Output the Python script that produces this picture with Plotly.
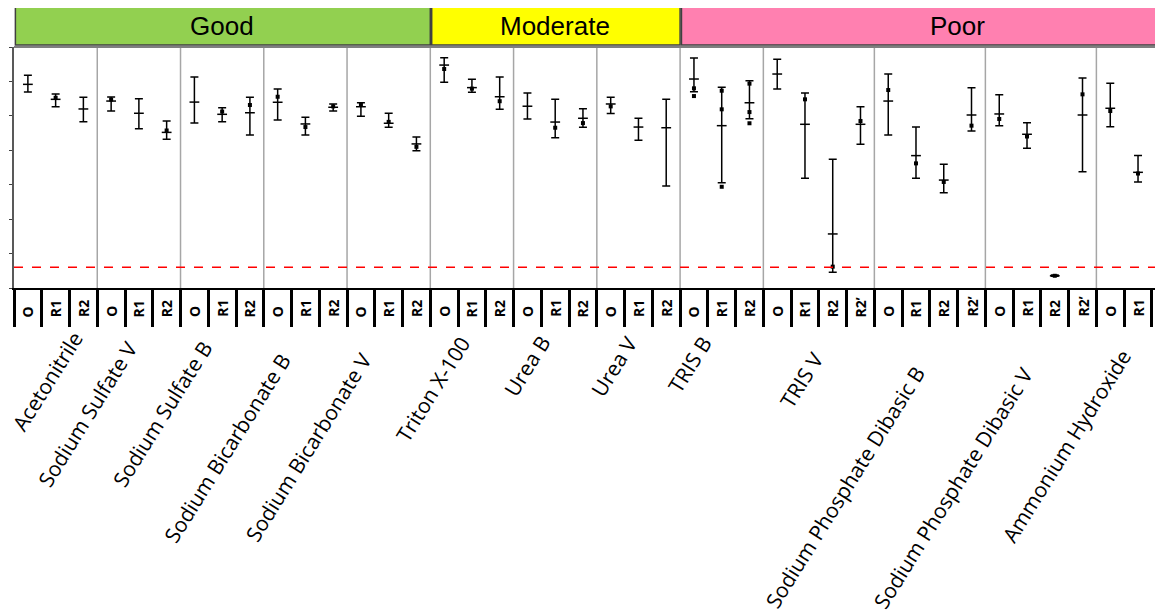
import plotly.graph_objects as go

# ---------------- data ----------------
groups = ["Acetonitrile", "Sodium Sulfate V", "Sodium Sulfate B", "Sodium Bicarbonate B",
          "Sodium Bicarbonate V", "Triton X-100", "Urea B", "Urea V", "TRIS B", "TRIS V",
          "Sodium Phosphate Dibasic B", "Sodium Phosphate Dibasic V", "Ammonium Hydroxide"]
group_conditions = ([["O", "R1", "R2"]] * 9 + [["O", "R1", "R2", "R2’"]] * 3
                    + [["O", "R1", "R2"]])
ratings = ["Good"] * 5 + ["Moderate"] * 3 + ["Poor"] * 5
rating_names = ["Good", "Moderate", "Poor"]
rating_colors = ["#92D050", "#FFFF00", "#FF80B0"]

means = [118.3, 109.6, 104.0, 108.6, 101.5, 90.4, 108.0, 100.9, 101.8, 107.9, 95.3, 105.0,
         105.3, 95.7, 83.7, 129.5, 116.4, 111.1, 105.6, 96.4, 98.6, 106.9, 93.5, 93.1,
         121.4, 94.3, 107.6, 124.3, 95.1, 31.4, 95.1, 108.6, 76.9, 62.7, 100.5, 101.1,
         89.3, 7.1, 100.5, 104.4, 67.2, 56.9]
upper = [123.6, 112.7, 110.8, 111.0, 110.0, 97.0, 122.6, 104.7, 110.8, 115.6, 99.2, 106.9,
         107.6, 101.5, 87.7, 133.8, 121.2, 122.6, 113.3, 109.6, 104.2, 110.8, 98.6, 109.6,
         133.6, 116.6, 120.4, 132.9, 113.3, 74.8, 105.3, 124.3, 93.5, 71.9, 116.4, 112.3,
         96.0, 7.5, 122.0, 118.9, 76.9, 61.0]
lower = [113.9, 105.3, 96.6, 102.8, 92.5, 86.4, 95.8, 96.6, 88.9, 97.6, 88.9, 102.8,
         99.7, 93.4, 79.8, 119.5, 113.7, 103.8, 98.2, 87.3, 93.4, 101.3, 85.8, 59.3,
         114.0, 61.2, 98.3, 115.6, 63.7, 9.1, 83.5, 88.9, 63.7, 55.4, 91.2, 94.3,
         81.2, 6.8, 67.6, 93.7, 61.6, 53.4]
points = [[], [110.5], [], [109.5], [], [91.5], [], [102.5], [106.3], [111.1], [93.5], [105.5],
          [106.5], [96.5], [82.0], [127.2], [115.8], [108.5], [], [93.1], [95.8], [105.5], [], [],
          [116.0, 111.5], [114.6, 103.8, 58.8], [118.7, 102.2, 95.7], [], [109.6], [12.4],
          [97.0], [115.0], [72.4], [61.6], [94.3], [98.2], [88.0], [7.1], [112.5], [102.8],
          [66.5], []]
threshold = 12

# ---------------- derived positions ----------------
cell_x, cell_lab, group_start = [], [], []
k = 0
for g, conds in zip(groups, group_conditions):
    group_start.append(k)
    for c in conds:
        cell_x.append(k)
        cell_lab.append(c)
        k += 1
group_end = [s + len(c) - 1 for s, c in zip(group_start, group_conditions)]
group_center = [(s + e) / 2 for s, e in zip(group_start, group_end)]

fig = go.Figure()
fig.add_trace(go.Scatter(
    x=cell_x, y=means, mode="markers",
    marker=dict(symbol="line-ew", size=7, color="black", line=dict(color="black", width=1.5)),
    error_y=dict(type="data", symmetric=False,
                 array=[u - m for u, m in zip(upper, means)],
                 arrayminus=[m - l for m, l in zip(means, lower)],
                 color="black", thickness=1.5, width=4),
    showlegend=False))
px_, py_ = [], []
for x, pts in zip(cell_x, points):
    for p in pts:
        px_.append(x)
        py_.append(p)
fig.add_trace(go.Scatter(x=px_, y=py_, mode="markers",
                         marker=dict(symbol="square", size=4, color="black"),
                         showlegend=False))

# plot geometry (screen px): top 47, bottom 288
PH = 241.0
def pap(py):
    return (288 - py) / PH

shapes = []
for s in group_start[1:]:
    shapes.append(dict(type="line", xref="x", yref="paper", x0=s - 0.5, x1=s - 0.5, y0=0, y1=1,
                       line=dict(color="#A6A6A6", width=1.5), layer="below"))
shapes.append(dict(type="line", xref="paper", yref="y", x0=0, x1=1, y0=threshold, y1=threshold,
                   line=dict(color="#FF0000", width=1.5, dash="dash")))
shapes.append(dict(type="line", xref="paper", yref="paper", x0=0, x1=1, y0=1, y1=1,
                   line=dict(color="#7F7F7F", width=2)))

annotations = []
for name, col in zip(rating_names, rating_colors):
    idx = [i for i, r in enumerate(ratings) if r == name]
    x0 = group_start[idx[0]] - 0.5
    x1 = group_end[idx[-1]] + 0.5
    shapes.append(dict(type="rect", xref="x", yref="paper", x0=x0 + 0.05, x1=x1, y0=pap(45), y1=pap(7),
                       fillcolor=col, line=dict(color="#404040", width=1.5)))
    xc = (x0 + x1) / 2 if name != "Poor" else 33.5
    annotations.append(dict(x=xc, y=(pap(45) + pap(7)) / 2, xref="x", yref="paper",
                            text=name, showarrow=False, yanchor="middle",
                            font=dict(family="Liberation Sans, Arial", size=26, color="black")))

for x, lab in zip(cell_x, cell_lab):
    annotations.append(dict(x=x, y=0, xref="x", yref="paper", text="<b>%s</b>" % lab,
                            showarrow=False, textangle=-90, xanchor="center", yanchor="bottom",
                            yshift=-31, font=dict(family="Open Sans", size=14, color="black")))

label_dx = [36, 7, -1, -6, -8, 7, 4, 8, -1, 13, 4, 1, 2]
label_end_y = [323, 333, 333, 345, 345, 328, 328, 328, 328, 344, 358, 360, 342]
for g, xc, dx, ey in zip(groups, group_center, label_dx, label_end_y):
    annotations.append(dict(x=xc, y=0, xref="x", yref="paper", text=g, showarrow=False,
                            textangle=-58, xanchor="right", yanchor="top",
                            xshift=dx, yshift=-(ey - 288),
                            font=dict(family="Open Sans", size=21, color="black")))

# the page body adds an 8 px offset; margins compensate so the plot sits at screen x 14..1163, y 47..288
fig.update_layout(
    width=1155, height=608, autosize=False,
    margin=dict(l=6, r=0, t=39, b=328, pad=0),
    paper_bgcolor="white", plot_bgcolor="white",
    shapes=shapes, annotations=annotations,
    xaxis=dict(range=[-0.5, 40.9], showgrid=False, zeroline=False, showticklabels=False,
               tickmode="array", tickvals=[i - 0.5 for i in range(len(cell_x) + 1)],
               ticks="outside", ticklen=37, tickwidth=3, tickcolor="black",
               showline=True, linecolor="black", linewidth=2),
    yaxis=dict(range=[0, 140], dtick=20, showgrid=False, zeroline=False, showticklabels=False,
               ticks="outside", ticklen=3, tickwidth=1, tickcolor="#404040",
               showline=True, linecolor="#595959", linewidth=2),
)

fig.write_html("out.html")
